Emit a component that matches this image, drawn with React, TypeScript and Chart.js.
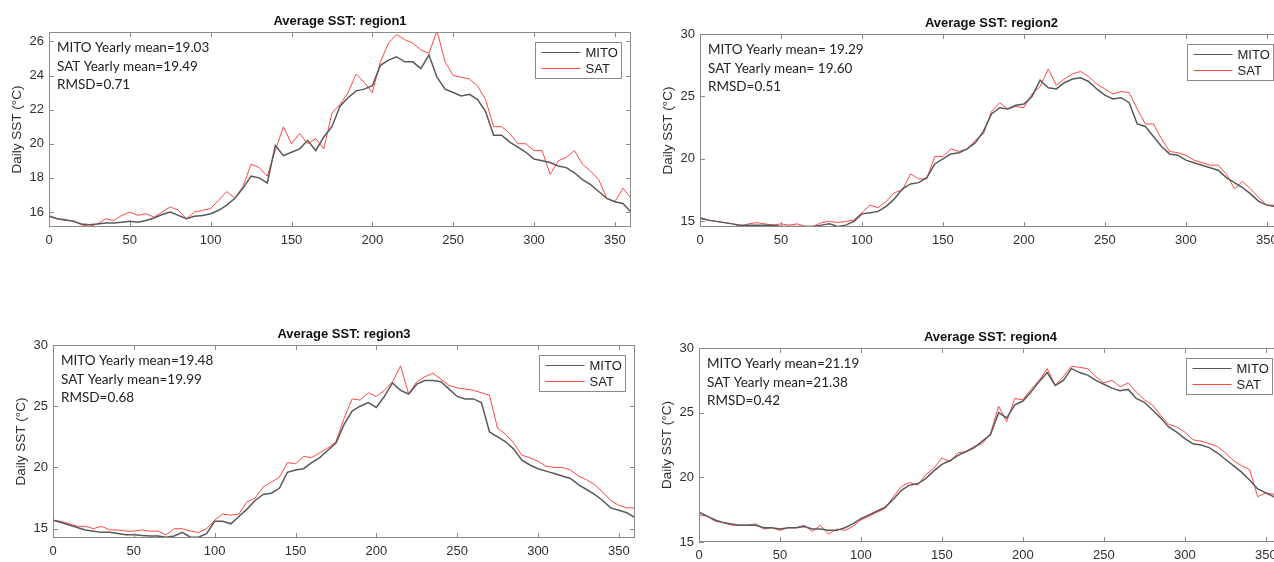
import React, { useEffect, useRef } from "react";
import { Chart, registerables } from "chart.js";

Chart.register(...registerables);

// ---------- DATA ----------
const DAYS = [
  0, 5, 10, 15, 20, 25, 30, 35, 40, 45,
  50, 55, 60, 65, 70, 75, 80, 85, 90, 95,
  100, 105, 110, 115, 120, 125, 130, 135, 140, 145,
  150, 155, 160, 165, 170, 175, 180, 185, 190, 195,
  200, 205, 210, 215, 220, 225, 230, 235, 240, 245,
  250, 255, 260, 265, 270, 275, 280, 285, 290, 295,
  300, 305, 310, 315, 320, 325, 330, 335, 340, 345,
  350, 355, 360,
];

const MITO_REGION1 = [
  15.75, 15.6, 15.55, 15.45, 15.3, 15.25, 15.3, 15.35, 15.35, 15.4,
  15.45, 15.4, 15.5, 15.65, 15.85, 16.0, 15.8, 15.6, 15.75, 15.8,
  15.9, 16.1, 16.4, 16.8, 17.4, 18.1, 18.0, 17.7, 19.9, 19.3,
  19.5, 19.7, 20.2, 19.6, 20.4, 21.0, 22.2, 22.7, 23.1, 23.2,
  23.4, 24.6, 24.9, 25.1, 24.8, 24.8, 24.4, 25.2, 23.9, 23.2,
  23.0, 22.8, 22.9, 22.6, 21.9, 20.5, 20.5, 20.1, 19.8, 19.5,
  19.1, 19.0, 18.9, 18.7, 18.6, 18.3, 17.9, 17.6, 17.2, 16.8,
  16.6, 16.5, 16.0,
];
const SAT_REGION1 = [
  15.8, 15.6, 15.5, 15.5, 15.25, 15.15, 15.3, 15.6, 15.5, 15.8,
  16.0, 15.8, 15.9, 15.7, 16.0, 16.3, 16.1, 15.6, 16.0, 16.1,
  16.2, 16.7, 17.2, 16.8, 17.5, 18.8, 18.6, 18.1, 19.6, 21.0,
  20.0, 20.6, 20.0, 20.3, 19.7, 21.8, 22.3, 23.0, 24.1, 23.6,
  23.0, 24.8, 25.9, 26.4, 26.1, 25.9, 25.5, 25.3, 26.6, 24.8,
  24.0, 23.9, 23.8, 23.4, 22.6, 21.0, 21.0, 20.6, 20.0, 20.0,
  19.6, 19.6, 18.2, 19.0, 19.2, 19.6, 18.8, 18.4, 17.9, 16.8,
  16.6, 17.4, 16.8,
];

const MITO_REGION2 = [
  15.3, 15.1, 15.0, 14.9, 14.8, 14.7, 14.7, 14.7, 14.7, 14.7,
  14.6, 14.6, 14.6, 14.6, 14.6, 14.7, 14.8, 14.6, 14.7, 15.0,
  15.6, 15.7, 15.8, 16.2, 16.8, 17.6, 18.0, 18.1, 18.5, 19.6,
  20.0, 20.4, 20.5, 20.8, 21.3, 22.2, 23.6, 24.1, 24.0, 24.3,
  24.4, 25.0, 26.3, 25.7, 25.6, 26.1, 26.4, 26.5, 26.2, 25.6,
  25.1, 24.8, 24.9, 24.5, 22.8, 22.6, 21.8, 21.0, 20.4, 20.3,
  19.9, 19.7, 19.5, 19.3, 19.1, 18.5, 18.1, 17.7, 17.2, 16.6,
  16.3, 16.2, 16.0,
];
const SAT_REGION2 = [
  15.2, 15.1, 15.0, 14.9, 14.8, 14.6, 14.8, 14.9, 14.8, 14.7,
  14.8, 14.7, 14.8, 14.6, 14.6, 14.9, 15.0, 14.9, 15.0, 15.1,
  15.7, 16.3, 16.1, 16.6, 17.3, 17.5, 18.8, 18.4, 18.4, 20.2,
  20.2, 20.8, 20.6, 20.8, 21.5, 22.0, 23.8, 24.5, 24.0, 24.2,
  24.1, 25.2, 25.8, 27.2, 25.9, 26.4, 26.8, 27.0, 26.6, 26.0,
  25.6, 25.2, 25.4, 25.3, 24.0, 22.8, 22.8, 21.6, 20.6, 20.5,
  20.3, 19.9, 19.7, 19.5, 19.5, 18.8, 17.6, 18.2, 17.6, 16.9,
  16.3, 16.3, 16.1,
];

const MITO_REGION3 = [
  15.7, 15.5, 15.3, 15.1, 14.9, 14.8, 14.7, 14.7, 14.6, 14.5,
  14.5, 14.45, 14.4, 14.4, 14.3, 14.4, 14.7, 14.3, 14.3, 14.6,
  15.6, 15.6, 15.4, 16.0, 16.6, 17.3, 17.8, 17.9, 18.3, 19.6,
  19.8, 19.9, 20.4, 20.8, 21.4, 22.0, 23.5, 24.6, 25.0, 25.3,
  24.9, 25.8, 26.9, 26.3, 26.0, 26.8, 27.1, 27.1, 27.0, 26.4,
  25.8, 25.6, 25.6, 25.3, 22.9, 22.5, 22.1, 21.5, 20.6, 20.2,
  19.9, 19.7, 19.5, 19.3, 19.1, 18.6, 18.2, 17.8, 17.3, 16.7,
  16.5, 16.3, 15.9,
];
const SAT_REGION3 = [
  15.7, 15.6, 15.4, 15.2, 15.2, 15.0, 15.2, 14.9, 14.9, 14.8,
  14.8, 14.9, 14.8, 14.8, 14.5, 15.0, 15.0, 14.8, 14.7, 15.0,
  15.7, 16.2, 16.1, 16.2, 17.2, 17.5, 18.4, 18.8, 19.2, 20.4,
  20.3, 20.9, 20.8, 21.2, 21.6, 22.1, 24.0, 25.6, 25.5, 26.1,
  25.8, 26.3, 27.0, 28.3, 26.0, 27.0, 27.4, 27.7, 27.2, 26.7,
  26.5, 26.4, 26.3, 26.1, 25.9, 23.2, 22.7, 22.0, 21.0, 20.8,
  20.5, 20.1, 20.0, 20.0, 19.8, 19.3, 19.0, 18.6, 18.0, 17.3,
  16.9, 16.7, 16.7,
];

const MITO_REGION4 = [
  17.3, 17.0, 16.7, 16.5, 16.4, 16.3, 16.3, 16.3, 16.1, 16.1,
  16.0, 16.1, 16.1, 16.2, 16.0, 16.0, 15.9, 15.9, 16.1, 16.4,
  16.8, 17.1, 17.4, 17.7, 18.3, 19.0, 19.4, 19.5, 19.9, 20.5,
  21.0, 21.3, 21.7, 22.0, 22.3, 22.8, 23.3, 25.0, 24.6, 25.6,
  25.9, 26.6, 27.4, 28.1, 27.1, 27.5, 28.4, 28.1, 27.9, 27.5,
  27.2, 26.9, 26.7, 26.8, 26.1, 25.8, 25.2, 24.6, 23.9, 23.5,
  23.0, 22.6, 22.5, 22.3, 21.9, 21.4, 20.9, 20.4, 19.8, 19.1,
  18.8, 18.5, 18.3,
];
const SAT_REGION4 = [
  17.1, 17.0, 16.6, 16.5, 16.3, 16.3, 16.3, 16.4, 16.0, 16.1,
  15.9, 16.1, 16.1, 16.3, 15.8, 16.3, 15.6, 16.0, 15.9, 16.2,
  16.7, 17.0, 17.3, 17.6, 18.5, 19.3, 19.6, 19.4, 20.2, 20.7,
  21.5, 21.2, 21.9, 22.0, 22.4, 22.6, 23.4, 25.5, 24.3, 26.1,
  26.0, 26.8, 27.5, 28.4, 27.1, 27.8, 28.6, 28.5, 28.4, 27.8,
  27.3, 27.5, 27.0, 27.3, 26.6, 26.0, 25.6, 24.8, 24.1, 23.9,
  23.5, 22.9, 22.8, 22.6, 22.4, 21.9, 21.3, 20.9, 20.6, 18.5,
  18.8, 18.7, 18.5,
];

const X_TICKS = [0, 50, 100, 150, 200, 250, 300, 350];
const Y_TICKS_REGION1 = [16, 18, 20, 22, 24, 26];
const Y_TICKS_OTHER = [15, 20, 25, 30];

const TITLES = [
  "Average SST: region1",
  "Average SST: region2",
  "Average SST: region3",
  "Average SST: region4",
];
const STAT_LINES = [
  ["MITO Yearly mean=19.03", "SAT Yearly mean=19.49", "RMSD=0.71"],
  ["MITO Yearly mean= 19.29", "SAT Yearly mean= 19.60", "RMSD=0.51"],
  ["MITO Yearly mean=19.48", "SAT Yearly mean=19.99", "RMSD=0.68"],
  ["MITO Yearly mean=21.19", "SAT Yearly mean=21.38", "RMSD=0.42"],
];
const SERIES_NAMES = ["MITO", "SAT"];
const Y_LABEL = "Daily SST (°C)";

// ---------- LAYOUT ----------
const Y_AXIS_W = 49;
const PAD_TOP = 32;
const PAD_RIGHT = 20;
const X_AXIS_H = 26;
const PAD_BOTTOM = 4;

const MITO_COLOR = "#595959";
const SAT_COLOR = "#ff4747";
const FRAME_COLOR = "#8a8a8a";
const TEXT_COLOR = "#303030";

type Panel = {
  plotLeft: number;
  plotTop: number;
  plotW: number;
  plotH: number;
  yMin: number;
  yMax: number;
  yTicks: number[];
  mito: number[];
  sat: number[];
  title: string;
  stats: string[];
};

const PANELS: Panel[] = [
  { plotLeft: 49, plotTop: 32, plotW: 582, plotH: 195, yMin: 15.12, yMax: 26.55, yTicks: Y_TICKS_REGION1, mito: MITO_REGION1, sat: SAT_REGION1, title: TITLES[0], stats: STAT_LINES[0] },
  { plotLeft: 700, plotTop: 34, plotW: 583, plotH: 193, yMin: 14.55, yMax: 30, yTicks: Y_TICKS_OTHER, mito: MITO_REGION2, sat: SAT_REGION2, title: TITLES[1], stats: STAT_LINES[1] },
  { plotLeft: 53, plotTop: 345, plotW: 582, plotH: 193, yMin: 14.24, yMax: 30, yTicks: Y_TICKS_OTHER, mito: MITO_REGION3, sat: SAT_REGION3, title: TITLES[2], stats: STAT_LINES[2] },
  { plotLeft: 699, plotTop: 348, plotW: 583, plotH: 194, yMin: 15, yMax: 30, yTicks: Y_TICKS_OTHER, mito: MITO_REGION4, sat: SAT_REGION4, title: TITLES[3], stats: STAT_LINES[3] },
];

const TICK_FONT = "'Liberation Sans', Arial, sans-serif";
const NOTE_FONT = "Lato, 'Open Sans', sans-serif";

function makeFramePlugin(panel: Panel) {
  return {
    id: "matlabFrame",
    afterDraw(chart: any) {
      const { ctx, chartArea } = chart;
      const { left, top, right, bottom } = chartArea;
      const xs = chart.scales.x;
      const ys = chart.scales.y;
      ctx.save();
      // frame
      ctx.strokeStyle = FRAME_COLOR;
      ctx.lineWidth = 1;
      ctx.strokeRect(Math.round(left) + 0.5, Math.round(top) + 0.5, Math.round(right - left) - 1, Math.round(bottom - top) - 1);
      // inward ticks
      const tl = 5;
      ctx.beginPath();
      X_TICKS.forEach((v) => {
        const px = Math.round(xs.getPixelForValue(v)) + 0.5;
        if (px < left || px > right) return;
        ctx.moveTo(px, bottom);
        ctx.lineTo(px, bottom - tl);
        ctx.moveTo(px, top);
        ctx.lineTo(px, top + tl);
      });
      panel.yTicks.forEach((v) => {
        const py = Math.round(ys.getPixelForValue(v)) + 0.5;
        if (py < top - 0.5 || py > bottom + 0.5) return;
        ctx.moveTo(left, py);
        ctx.lineTo(left + tl, py);
        ctx.moveTo(right, py);
        ctx.lineTo(right - tl, py);
      });
      ctx.stroke();

      // title
      ctx.fillStyle = "#111";
      ctx.font = `bold 13px ${TICK_FONT}`;
      ctx.textAlign = "center";
      ctx.textBaseline = "middle";
      ctx.fillText(panel.title, (left + right) / 2, top - 11);

      // stats text
      ctx.fillStyle = "#222";
      ctx.font = `13.5px ${NOTE_FONT}`;
      ctx.textAlign = "left";
      panel.stats.forEach((s, i) => {
        ctx.fillText(s, left + 8, top + 16 + i * 18.3);
      });

      // legend
      const lw = 86;
      const lh = 36;
      const lx = Math.round(right - 10 - lw) + 0.5;
      const ly = Math.round(top + 10) + 0.5;
      ctx.fillStyle = "#fff";
      ctx.fillRect(lx, ly, lw, lh);
      ctx.strokeStyle = "#8a8a8a";
      ctx.lineWidth = 1;
      ctx.strokeRect(lx, ly, lw, lh);
      const colors = [MITO_COLOR, SAT_COLOR];
      ctx.font = `13px ${TICK_FONT}`;
      SERIES_NAMES.forEach((name, i) => {
        const cy = ly + 10 + i * 16;
        ctx.strokeStyle = colors[i];
        ctx.lineWidth = 1;
        ctx.beginPath();
        ctx.moveTo(lx + 6, cy);
        ctx.lineTo(lx + 45, cy);
        ctx.stroke();
        ctx.fillStyle = "#222";
        ctx.fillText(name, lx + 50, cy + 0.5);
      });
      ctx.restore();
    },
  };
}

function PanelChart({ panel }: { panel: Panel }) {
  const ref = useRef<HTMLCanvasElement | null>(null);
  const cw = Y_AXIS_W + panel.plotW + PAD_RIGHT;
  const ch = PAD_TOP + panel.plotH + X_AXIS_H + PAD_BOTTOM;

  useEffect(() => {
    if (!ref.current) return;
    const chart = new Chart(ref.current, {
      type: "line",
      data: {
        datasets: [
          {
            label: SERIES_NAMES[0],
            data: DAYS.map((d, i) => ({ x: d, y: panel.mito[i] })),
            borderColor: MITO_COLOR,
            borderWidth: 1.5,
            pointRadius: 0,
            tension: 0,
          },
          {
            label: SERIES_NAMES[1],
            data: DAYS.map((d, i) => ({ x: d, y: panel.sat[i] })),
            borderColor: SAT_COLOR,
            borderWidth: 1,
            pointRadius: 0,
            tension: 0,
          },
        ],
      },
      options: {
        responsive: false,
        animation: false,
        events: [],
        layout: { padding: { left: 0, top: PAD_TOP, right: PAD_RIGHT, bottom: PAD_BOTTOM } },
        plugins: {
          legend: { display: false },
          tooltip: { enabled: false },
          title: { display: false },
        },
        scales: {
          x: {
            type: "linear",
            min: 0,
            max: 360,
            grid: { display: false, drawTicks: false },
            border: { display: false },
            ticks: {
              font: { family: TICK_FONT, size: 13 },
              color: TEXT_COLOR,
              padding: 6,
              autoSkip: false,
              maxRotation: 0,
              includeBounds: false,
            },
            afterBuildTicks: (s: any) => {
              s.ticks = X_TICKS.map((v) => ({ value: v }));
            },
            afterFit: (s: any) => {
              s.height = X_AXIS_H;
            },
          },
          y: {
            type: "linear",
            min: panel.yMin,
            max: panel.yMax,
            grid: { display: false, drawTicks: false },
            border: { display: false },
            ticks: {
              font: { family: TICK_FONT, size: 13 },
              color: TEXT_COLOR,
              padding: 5,
              autoSkip: false,
              includeBounds: false,
            },
            afterBuildTicks: (s: any) => {
              s.ticks = panel.yTicks.map((v) => ({ value: v }));
            },
            afterFit: (s: any) => {
              s.width = Y_AXIS_W;
            },
            title: {
              display: true,
              text: Y_LABEL,
              color: TEXT_COLOR,
              font: { family: TICK_FONT, size: 13.5 },
              padding: { top: 9, bottom: 0 },
            },
          },
        },
      } as any,
      plugins: [makeFramePlugin(panel)],
    });
    return () => chart.destroy();
  }, [panel]);

  return (
    <canvas
      ref={ref}
      width={cw}
      height={ch}
      style={{
        position: "absolute",
        left: panel.plotLeft - Y_AXIS_W,
        top: panel.plotTop - PAD_TOP,
        width: cw,
        height: ch,
      }}
    />
  );
}

export default function App() {
  return (
    <div
      style={{
        position: "fixed",
        left: 0,
        top: 0,
        width: 1274,
        height: 562,
        overflow: "hidden",
        background: "#fff",
      }}
    >
      {PANELS.map((p, i) => (
        <PanelChart key={i} panel={p} />
      ))}
    </div>
  );
}
